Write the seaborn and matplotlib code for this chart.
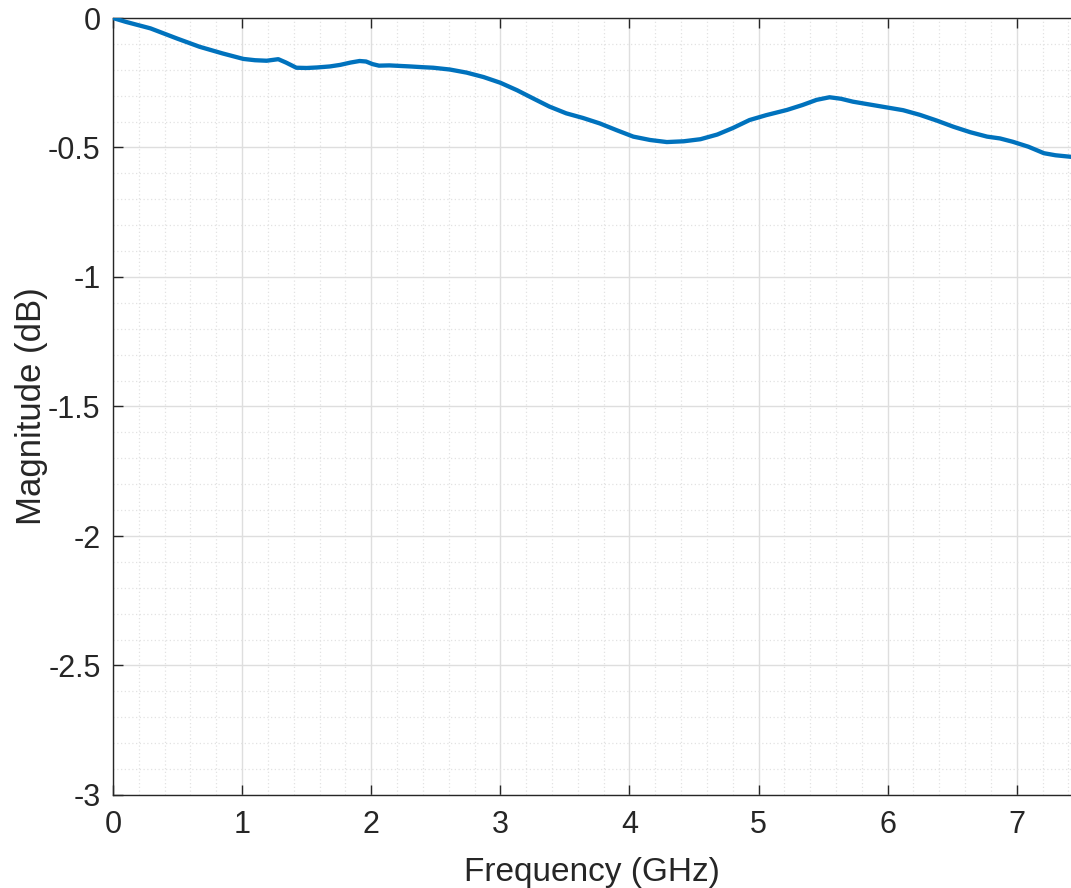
import matplotlib
matplotlib.use("Agg")
import matplotlib.pyplot as plt
from matplotlib.ticker import MultipleLocator, FuncFormatter
import seaborn as sns
import pandas as pd

# Measured insertion-loss sweep
freq_ghz = [0.00, 0.10, 0.29, 0.50, 0.67, 0.85, 1.01, 1.10, 1.19, 1.28, 1.34, 1.42,
            1.50, 1.58, 1.68, 1.76, 1.84, 1.91, 1.96, 2.01, 2.06, 2.14, 2.22, 2.30,
            2.40, 2.48, 2.61, 2.74, 2.87, 3.00, 3.13, 3.26, 3.38, 3.51, 3.64, 3.77,
            3.90, 4.03, 4.16, 4.29, 4.42, 4.55, 4.68, 4.80, 4.93, 5.06, 5.22, 5.34,
            5.45, 5.55, 5.64, 5.73, 5.86, 5.99, 6.12, 6.25, 6.38, 6.51, 6.64, 6.77,
            6.87, 6.97, 7.09, 7.21, 7.30, 7.42]
magnitude_db = [0.000, -0.015, -0.040, -0.080, -0.111, -0.137, -0.158, -0.163, -0.165, -0.159,
                -0.172, -0.192, -0.193, -0.191, -0.187, -0.181, -0.172, -0.166, -0.168, -0.178,
                -0.184, -0.183, -0.185, -0.187, -0.190, -0.192, -0.199, -0.211, -0.228, -0.250,
                -0.279, -0.312, -0.342, -0.368, -0.386, -0.407, -0.433, -0.458, -0.471, -0.479,
                -0.476, -0.468, -0.450, -0.425, -0.394, -0.375, -0.355, -0.336, -0.316, -0.306,
                -0.312, -0.323, -0.334, -0.345, -0.356, -0.374, -0.396, -0.420, -0.441, -0.458,
                -0.465, -0.478, -0.497, -0.522, -0.530, -0.536]

x_ticks = [0, 1, 2, 3, 4, 5, 6, 7]
y_ticks = [-3, -2.5, -2, -1.5, -1, -0.5, 0]

df = pd.DataFrame({"Frequency (GHz)": freq_ghz, "Magnitude (dB)": magnitude_db})

sns.set_theme(style="white")
plt.rcParams["font.family"] = ["Liberation Sans", "DejaVu Sans"]

ink = "#262626"
fig = plt.figure(figsize=(10.71, 8.88), dpi=100)
ax = fig.add_axes([113 / 1071, 1 - 795 / 888, 1 - 113 / 1071, (795 - 18) / 888])

sns.lineplot(data=df, x="Frequency (GHz)", y="Magnitude (dB)", ax=ax,
             color="#0072BD", linewidth=3.1, zorder=3)

ax.set_xlim(0, 7.42)
ax.set_ylim(-3, 0)
ax.set_xticks(x_ticks)
ax.set_yticks(y_ticks)
ax.xaxis.set_minor_locator(MultipleLocator(0.2))
ax.yaxis.set_minor_locator(MultipleLocator(0.1))
ax.yaxis.set_major_formatter(FuncFormatter(lambda v, p: f"{v:g}".replace("\u2212", "-")))

ax.grid(which="major", color="#dedede", linewidth=1.0, linestyle="-")
ax.grid(which="minor", color="#e2e2e2", linewidth=0.9, linestyle=(0, (1, 2)))
ax.set_axisbelow(True)

for side in ("left", "bottom", "top"):
    ax.spines[side].set_color(ink)
    ax.spines[side].set_linewidth(1.0)
ax.spines["right"].set_visible(False)

ax.tick_params(which="major", direction="in", length=7, width=1.0, color=ink,
               labelsize=22, labelcolor=ink, top=True, bottom=True, left=True)
ax.tick_params(axis="x", which="major", pad=11)
ax.tick_params(axis="y", which="major", pad=9)
ax.tick_params(which="minor", length=0)

ax.set_xlabel("Frequency (GHz)", fontsize=24, color=ink, labelpad=12)
ax.set_ylabel("Magnitude (dB)", fontsize=25, color=ink, labelpad=0)

fig.savefig("out.png", dpi=100)
